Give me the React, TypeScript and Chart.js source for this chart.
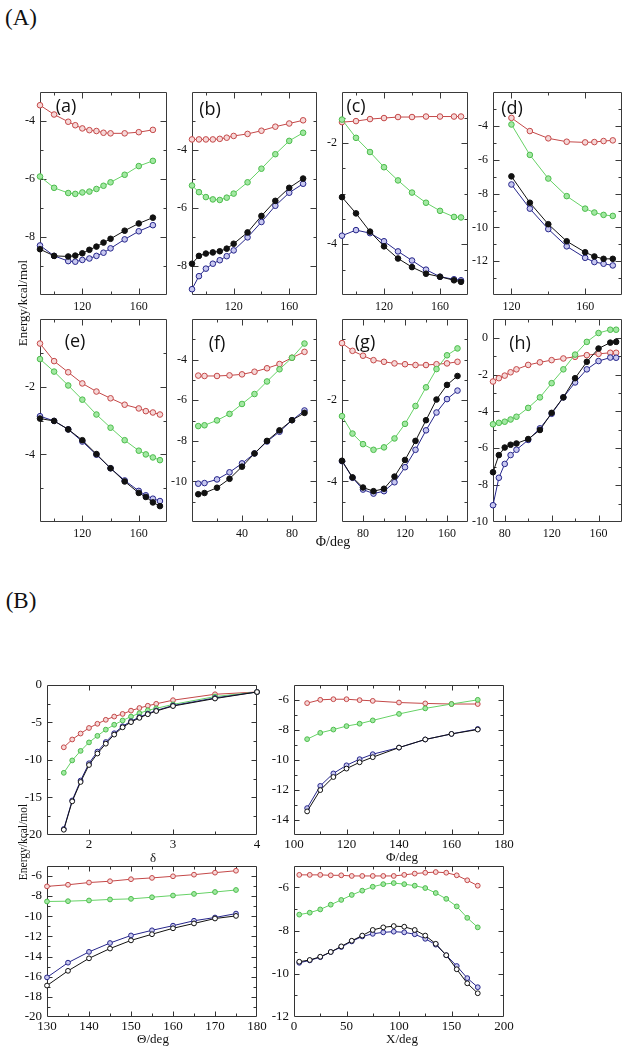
import React, { useEffect, useRef } from "react";
import { Chart, registerables } from "chart.js";

Chart.register(...registerables);

// ---------------- Panel A data ----------------
const aPhi = [90, 100, 110, 115, 120, 125, 130, 135, 140, 150, 160, 170];
const aRed = [-3.45, -3.77, -4.02, -4.14, -4.25, -4.31, -4.34, -4.4, -4.42, -4.42, -4.38, -4.3];
const aGreen = [-5.91, -6.3, -6.48, -6.51, -6.46, -6.43, -6.34, -6.23, -6.11, -5.85, -5.55, -5.37];
const aBlack = [-8.42, -8.65, -8.67, -8.64, -8.56, -8.44, -8.33, -8.19, -8.06, -7.78, -7.53, -7.33];
const aBlue = [-8.29, -8.65, -8.83, -8.85, -8.79, -8.74, -8.65, -8.54, -8.39, -8.08, -7.8, -7.59];

const bPhi = [90, 95, 100, 105, 110, 115, 120, 130, 140, 150, 160, 170];
const bRed = [-3.63, -3.63, -3.63, -3.63, -3.61, -3.57, -3.51, -3.44, -3.33, -3.19, -3.08, -2.97];
const bGreen = [-5.22, -5.45, -5.62, -5.7, -5.72, -5.64, -5.5, -5.11, -4.64, -4.14, -3.68, -3.4];
const bBlack = [-7.92, -7.65, -7.57, -7.53, -7.49, -7.4, -7.23, -6.84, -6.27, -5.75, -5.3, -4.98];
const bBlue = [-8.8, -8.35, -8.09, -7.92, -7.8, -7.66, -7.46, -7.01, -6.48, -5.92, -5.47, -5.16];

const cPhi = [90, 100, 110, 120, 130, 140, 150, 160, 170, 175];
const cRed = [-1.59, -1.57, -1.53, -1.51, -1.49, -1.49, -1.48, -1.48, -1.48, -1.48];
const cGreen = [-1.54, -1.9, -2.18, -2.48, -2.74, -2.98, -3.18, -3.34, -3.46, -3.47];
const cBlack = [-3.07, -3.39, -3.75, -4.04, -4.28, -4.45, -4.58, -4.64, -4.71, -4.74];
const cBlue = [-3.83, -3.72, -3.78, -3.94, -4.14, -4.32, -4.5, -4.64, -4.69, -4.71];

const dPhi = [120, 130, 140, 150, 160, 165, 170, 175];
const dRed = [-3.52, -4.3, -4.73, -4.93, -4.97, -4.95, -4.89, -4.85];
const dGreen = [-3.91, -5.71, -7.11, -8.15, -8.89, -9.12, -9.26, -9.32];
const dBlack = [-6.98, -8.54, -9.81, -10.82, -11.47, -11.72, -11.86, -11.86];
const dBlue = [-7.46, -8.89, -10.1, -11.12, -11.8, -12.05, -12.15, -12.25];

const ePhi = [90, 100, 110, 120, 130, 140, 150, 160, 165, 170, 175];
const eRed = [-0.72, -1.24, -1.57, -1.9, -2.14, -2.34, -2.53, -2.64, -2.72, -2.76, -2.82];
const eGreen = [-1.18, -1.55, -1.96, -2.38, -2.82, -3.21, -3.58, -3.89, -4.0, -4.09, -4.17];
const eBlack = [-2.94, -3.01, -3.26, -3.58, -3.99, -4.41, -4.8, -5.14, -5.26, -5.42, -5.53];
const eBlue = [-2.87, -3.01, -3.26, -3.62, -4.01, -4.41, -4.77, -5.08, -5.21, -5.31, -5.38];

const fPhi = [5, 10, 20, 30, 40, 50, 60, 70, 80, 90];
const fRed = [-4.78, -4.8, -4.8, -4.77, -4.72, -4.59, -4.42, -4.21, -3.9, -3.61];
const fGreen = [-7.27, -7.23, -6.99, -6.67, -6.18, -5.69, -5.07, -4.47, -3.9, -3.2];
const fBlack = [-10.63, -10.57, -10.31, -9.87, -9.27, -8.62, -8.0, -7.48, -6.98, -6.62];
const fBlue = [-10.11, -10.08, -9.9, -9.55, -9.11, -8.62, -8.03, -7.55, -6.98, -6.5];

const gPhi = [60, 70, 80, 90, 100, 110, 120, 130, 140, 150, 160, 170];
const gRed = [-0.59, -0.78, -0.9, -1.01, -1.05, -1.09, -1.11, -1.13, -1.13, -1.11, -1.09, -1.05];
const gGreen = [-2.39, -2.82, -3.08, -3.22, -3.16, -2.94, -2.58, -2.14, -1.68, -1.23, -0.89, -0.72];
const gBlack = [-3.49, -3.9, -4.15, -4.24, -4.18, -3.88, -3.47, -3.0, -2.49, -1.98, -1.62, -1.4];
const gBlue = [-3.5, -3.91, -4.2, -4.3, -4.24, -4.02, -3.65, -3.22, -2.74, -2.3, -1.97, -1.76];

const hPhi = [70, 75, 80, 85, 90, 100, 110, 120, 130, 140, 150, 160, 170, 175];
const hRed = [-2.38, -2.2, -2.06, -1.88, -1.72, -1.48, -1.34, -1.22, -1.13, -1.04, -0.95, -0.88, -0.82, -0.82];
const hGreen = [-4.7, -4.62, -4.56, -4.44, -4.29, -3.81, -3.24, -2.47, -1.72, -0.92, -0.23, 0.25, 0.43, 0.43];
const hBlack = [-7.3, -6.37, -5.96, -5.81, -5.74, -5.5, -5.01, -4.08, -3.24, -2.2, -1.31, -0.59, -0.27, -0.23];
const hBlue = [-9.09, -7.6, -6.85, -6.37, -6.08, -5.55, -4.92, -4.13, -3.24, -2.43, -1.72, -1.27, -1.08, -1.09];

// ---------------- Panel B data ----------------
const delta = [1.7, 1.8, 1.9, 2.0, 2.1, 2.2, 2.3, 2.4, 2.5, 2.6, 2.7, 2.8, 3.0, 3.5, 4.0];
const deltaRed = [-8.32, -7.28, -6.49, -5.75, -5.19, -4.66, -4.23, -3.88, -3.44, -3.09, -2.79, -2.53, -2.05, -1.26, -0.96];
const deltaGreen = [-11.72, -10.07, -8.8, -7.67, -6.8, -5.97, -5.32, -4.75, -4.23, -3.79, -3.4, -3.14, -2.61, -1.57, -0.96];
const deltaBlack = [-19.3, -15.52, -12.94, -10.68, -9.15, -7.84, -6.63, -5.66, -4.97, -4.4, -3.92, -3.49, -2.83, -1.83, -0.96];
const deltaBlue = [-19.2, -15.4, -12.75, -10.45, -8.9, -7.62, -6.45, -5.52, -4.85, -4.3, -3.84, -3.42, -2.76, -1.75, -0.96];

const phiB = [105, 110, 115, 120, 125, 130, 140, 150, 160, 170];
const phiRed = [-6.22, -6.0, -5.96, -5.96, -6.02, -6.07, -6.18, -6.24, -6.28, -6.28];
const phiGreen = [-8.62, -8.2, -7.98, -7.75, -7.59, -7.37, -6.94, -6.57, -6.28, -6.0];
const phiBlack = [-13.43, -12.01, -11.14, -10.58, -10.16, -9.82, -9.18, -8.64, -8.27, -7.98];
const phiBlue = [-13.21, -11.73, -10.9, -10.36, -9.95, -9.62, -9.18, -8.64, -8.27, -7.94];

const theta = [130, 135, 140, 145, 150, 155, 160, 165, 170, 175];
const thetaRed = [-7.04, -6.88, -6.66, -6.53, -6.33, -6.2, -6.04, -5.88, -5.68, -5.49];
const thetaGreen = [-8.54, -8.51, -8.44, -8.34, -8.28, -8.12, -7.95, -7.79, -7.6, -7.4];
const thetaBlack = [-16.88, -15.42, -14.18, -13.21, -12.4, -11.79, -11.2, -10.72, -10.23, -9.97];
const thetaBlue = [-16.07, -14.61, -13.54, -12.66, -11.91, -11.4, -10.94, -10.45, -10.13, -9.74];

const chi = [5, 15, 25, 35, 45, 55, 65, 75, 85, 95, 105, 115, 125, 135, 145, 155, 165, 175];
const chiRed = [-5.42, -5.42, -5.42, -5.44, -5.44, -5.47, -5.47, -5.47, -5.47, -5.47, -5.42, -5.36, -5.32, -5.29, -5.32, -5.44, -5.67, -5.92];
const chiGreen = [-7.26, -7.17, -7.02, -6.8, -6.58, -6.35, -6.15, -5.97, -5.85, -5.8, -5.85, -5.92, -6.03, -6.26, -6.53, -6.88, -7.41, -7.85];
const chiBlack = [-9.44, -9.36, -9.21, -8.99, -8.73, -8.47, -8.23, -7.97, -7.85, -7.79, -7.82, -7.97, -8.23, -8.61, -9.14, -9.79, -10.44, -10.9];
const chiBlue = [-9.49, -9.38, -9.23, -8.99, -8.76, -8.5, -8.27, -8.15, -8.08, -8.05, -8.08, -8.17, -8.38, -8.65, -9.14, -9.64, -10.2, -10.62];

// ---------------- tick labels ----------------
const aXTicks = [120, 160];
const aYTicks = [-4, -6, -8];
const bXTicks = [120, 160];
const bYTicks = [-4, -6, -8];
const cXTicks = [120, 160];
const cYTicks = [-2, -4];
const dXTicks = [120, 160];
const dYTicks = [-4, -6, -8, -10, -12];
const eXTicks = [120, 160];
const eYTicks = [-2, -4];
const fXTicks = [40, 80];
const fYTicks = [-4, -6, -8, -10];
const gXTicks = [80, 120, 160];
const gYTicks = [-2, -4];
const hXTicks = [80, 120, 160];
const hYTicks = [0, -2, -4, -6, -8, -10];

const deltaXTicks = [2, 3, 4];
const deltaYTicks = [0, -5, -10, -15, -20];
const phiXTicks = [100, 120, 140, 160, 180];
const phiYTicks = [-6, -8, -10, -12, -14];
const thetaXTicks = [130, 140, 150, 160, 170, 180];
const thetaYTicks = [-6, -8, -10, -12, -14, -16, -18, -20];
const chiXTicks = [0, 50, 100, 150, 200];
const chiYTicks = [-6, -8, -10, -12];

type Kind = "red" | "green" | "black" | "blue";
type SeriesDef = { x: number[]; y: number[]; kind: Kind };
type PanelDef = {
  box: [number, number, number, number];
  xr: [number, number];
  yr: [number, number];
  xTicks: number[];
  yTicks: number[];
  xStep: [number, number];
  yStep: [number, number];
  series: SeriesDef[];
  big: boolean;
};

function four(x: number[], black: number[], blue: number[], green: number[], red: number[]): SeriesDef[] {
  return [
    { x, y: black, kind: "black" },
    { x, y: blue, kind: "blue" },
    { x, y: green, kind: "green" },
    { x, y: red, kind: "red" },
  ];
}

const R1: [number, number] = [90, 295];
const R2: [number, number] = [317, 522];
const C = [
  [40, 167],
  [192, 317],
  [342, 468],
  [493, 622],
];

const panels: PanelDef[] = [
  { box: [C[0][0], R1[0], C[0][1], R1[1]], xr: [90, 180], yr: [-10, -3], xTicks: aXTicks, yTicks: aYTicks, xStep: [40, 20], yStep: [2, 1], series: four(aPhi, aBlack, aBlue, aGreen, aRed), big: false },
  { box: [C[1][0], R1[0], C[1][1], R1[1]], xr: [90, 180], yr: [-9, -2], xTicks: bXTicks, yTicks: bYTicks, xStep: [40, 20], yStep: [2, 1], series: four(bPhi, bBlack, bBlue, bGreen, bRed), big: false },
  { box: [C[2][0], R1[0], C[2][1], R1[1]], xr: [90, 180], yr: [-5, -1], xTicks: cXTicks, yTicks: cYTicks, xStep: [40, 20], yStep: [2, 0.5], series: four(cPhi, cBlack, cBlue, cGreen, cRed), big: false },
  { box: [C[3][0], R1[0], C[3][1], R1[1]], xr: [110, 180], yr: [-14, -2], xTicks: dXTicks, yTicks: dYTicks, xStep: [40, 20], yStep: [2, 1], series: four(dPhi, dBlack, dBlue, dGreen, dRed), big: false },
  { box: [C[0][0], R2[0], C[0][1], R2[1]], xr: [90, 180], yr: [-6, 0], xTicks: eXTicks, yTicks: eYTicks, xStep: [40, 20], yStep: [2, 1], series: four(ePhi, eBlack, eBlue, eGreen, eRed), big: false },
  { box: [C[1][0], R2[0], C[1][1], R2[1]], xr: [0, 100], yr: [-12, -2], xTicks: fXTicks, yTicks: fYTicks, xStep: [40, 20], yStep: [2, 1], series: four(fPhi, fBlack, fBlue, fGreen, fRed), big: false },
  { box: [C[2][0], R2[0], C[2][1], R2[1]], xr: [60, 180], yr: [-5, 0], xTicks: gXTicks, yTicks: gYTicks, xStep: [40, 20], yStep: [2, 0.5], series: four(gPhi, gBlack, gBlue, gGreen, gRed), big: false },
  { box: [C[3][0], R2[0], C[3][1], R2[1]], xr: [70, 180], yr: [-10, 1], xTicks: hXTicks, yTicks: hYTicks, xStep: [40, 20], yStep: [2, 1], series: four(hPhi, hBlack, hBlue, hGreen, hRed), big: false },
  { box: [47, 682, 257, 835], xr: [1.5, 4], yr: [-20, 0], xTicks: deltaXTicks, yTicks: deltaYTicks, xStep: [1, 0.5], yStep: [5, 2.5], series: four(delta, deltaBlack, deltaBlue, deltaGreen, deltaRed), big: true },
  { box: [294, 682, 504, 835], xr: [100, 180], yr: [-15, -5], xTicks: phiXTicks, yTicks: phiYTicks, xStep: [20, 10], yStep: [2, 1], series: four(phiB, phiBlack, phiBlue, phiGreen, phiRed), big: true },
  { box: [47, 863, 257, 1017], xr: [130, 180], yr: [-20, -5], xTicks: thetaXTicks, yTicks: thetaYTicks, xStep: [10, 5], yStep: [2, 1], series: four(theta, thetaBlack, thetaBlue, thetaGreen, thetaRed), big: true },
  { box: [294, 863, 504, 1017], xr: [0, 200], yr: [-12, -5], xTicks: chiXTicks, yTicks: chiYTicks, xStep: [50, 25], yStep: [2, 1], series: four(chi, chiBlack, chiBlue, chiGreen, chiRed), big: true },
];

function styleFor(kind: Kind, big: boolean) {
  switch (kind) {
    case "red":
      return { line: "#c44848", pb: "#c44848", pf: "#f6d8d8" };
    case "green":
      return { line: "#66d266", pb: "#4cbc4c", pf: "#a2e8a2" };
    case "black":
      return { line: "#111111", pb: "#111111", pf: big ? "#ffffff" : "#111111" };
    default:
      return { line: "#25258a", pb: "#25258a", pf: "#c8c8f0" };
  }
}

function multiples(min: number, max: number, step: number): number[] {
  const out: number[] = [];
  const start = Math.ceil(min / step - 1e-9);
  for (let k = start; k * step <= max + 1e-9; k++) out.push(Math.round(k * step * 1000) / 1000);
  return out;
}

const framePlugin = {
  id: "frame",
  beforeDatasetsDraw(chart: any, _args: any, opts: any) {
    const { ctx, chartArea } = chart;
    const { left, top, right, bottom } = chartArea;
    const xs = chart.scales.x;
    const ys = chart.scales.y;
    const eps = 1e-6;
    const inside = (v: number, a: number, b: number) => v > a + eps && v < b - eps;
    const xMaj = multiples(xs.min, xs.max, opts.xStep[0]).filter((v) => inside(v, xs.min, xs.max));
    const xMin = multiples(xs.min, xs.max, opts.xStep[1]).filter((v) => inside(v, xs.min, xs.max) && !xMaj.includes(v));
    const yMaj = multiples(ys.min, ys.max, opts.yStep[0]).filter((v) => inside(v, ys.min, ys.max));
    const yMin = multiples(ys.min, ys.max, opts.yStep[1]).filter((v) => inside(v, ys.min, ys.max) && !yMaj.includes(v));
    ctx.save();
    ctx.strokeStyle = opts.color;
    ctx.lineWidth = 1;
    ctx.beginPath();
    const L = Math.round(left) + 0.5;
    const R = Math.round(right) - 0.5;
    const T = Math.round(top) + 0.5;
    const B = Math.round(bottom) - 0.5;
    ctx.rect(L, T, R - L, B - T);
    const drawX = (vals: number[], len: number) => {
      vals.forEach((v) => {
        const p = Math.round(xs.getPixelForValue(v)) + 0.5;
        ctx.moveTo(p, B);
        ctx.lineTo(p, B - len);
        ctx.moveTo(p, T);
        ctx.lineTo(p, T + len);
      });
    };
    const drawY = (vals: number[], len: number) => {
      vals.forEach((v) => {
        const p = Math.round(ys.getPixelForValue(v)) + 0.5;
        ctx.moveTo(L, p);
        ctx.lineTo(L + len, p);
        ctx.moveTo(R, p);
        ctx.lineTo(R - len, p);
      });
    };
    drawX(xMaj, opts.major);
    drawX(xMin, opts.minor);
    drawY(yMaj, opts.major);
    drawY(yMin, opts.minor);
    ctx.stroke();
    ctx.restore();
  },
};

function Panel({ def }: { def: PanelDef }) {
  const ref = useRef<HTMLCanvasElement | null>(null);
  const padL = def.big ? 46 : 36;
  const padR = def.big ? 16 : 14;
  const padT = 10;
  const padB = def.big ? 18 : 20;
  const [bl, bt, br, bb] = def.box;
  const w = br - bl + padL + padR;
  const h = bb - bt + padT + padB;
  useEffect(() => {
    if (!ref.current) return;
    const fontSize = def.big ? 13 : 12;
    const font = { family: "'Liberation Serif', 'DejaVu Serif', serif", size: fontSize };
    const r = def.big ? 2.4 : 2.8;
    const datasets = def.series.map((s) => {
      const st = styleFor(s.kind, def.big);
      return {
        data: s.x.map((x, i) => ({ x, y: s.y[i] })),
        showLine: true,
        borderColor: st.line,
        borderWidth: 1,
        pointRadius: r,
        pointBorderWidth: 1,
        pointBorderColor: st.pb,
        pointBackgroundColor: st.pf,
        backgroundColor: st.pf,
        tension: 0,
        fill: false,
        clip: false as any,
      };
    });
    const chart = new Chart(ref.current, {
      type: "scatter",
      data: { datasets },
      options: {
        animation: false,
        responsive: false,
        devicePixelRatio: 1,
        events: [],
        layout: { padding: { left: 0, top: padT, right: padR, bottom: 0 } },
        plugins: {
          legend: { display: false },
          tooltip: { enabled: false },
          frame: { xStep: def.xStep, yStep: def.yStep, major: def.big ? 5 : 6, minor: 3, color: def.big ? "#333" : "#3a3a3a" },
        } as any,
        scales: {
          x: {
            type: "linear",
            min: def.xr[0],
            max: def.xr[1],
            grid: { display: false, drawTicks: false },
            border: { display: false },
            ticks: { font, color: "#111", padding: def.big ? 2 : 5, autoSkip: false, maxRotation: 0, callback: (v: any) => String(v) },
            afterBuildTicks: (s: any) => {
              s.ticks = def.xTicks.map((v) => ({ value: v }));
            },
            afterFit: (s: any) => {
              s.height = padB;
            },
          },
          y: {
            type: "linear",
            min: def.yr[0],
            max: def.yr[1],
            grid: { display: false, drawTicks: false },
            border: { display: false },
            ticks: { font, color: "#111", padding: 5, autoSkip: false, callback: (v: any) => String(v) },
            afterBuildTicks: (s: any) => {
              s.ticks = def.yTicks.map((v) => ({ value: v }));
            },
            afterFit: (s: any) => {
              s.width = padL;
            },
          },
        },
      },
      plugins: [framePlugin as any],
    });
    return () => chart.destroy();
  }, []);
  return (
    <canvas
      ref={ref}
      width={w}
      height={h}
      style={{ position: "absolute", left: bl - padL, top: bt - padT, width: w, height: h }}
    />
  );
}

function Txt(props: { x: number; y: number; size: number; text: string; sans?: boolean; rot?: boolean }) {
  return (
    <div
      style={{
        position: "absolute",
        left: props.x,
        top: props.y,
        transform: `translate(-50%, -50%)${props.rot ? " rotate(-90deg)" : ""}`,
        fontFamily: props.sans ? "'Open Sans', 'Noto Sans', sans-serif" : "'Liberation Serif', 'DejaVu Serif', serif",
        fontSize: props.size,
        lineHeight: 1,
        whiteSpace: "nowrap",
        color: "#111",
      }}
    >
      {props.text}
    </div>
  );
}

const subLabels: [string, number, number][] = [
  ["(a)", 66, 105],
  ["(b)", 210, 108],
  ["(c)", 356, 105],
  ["(d)", 512, 107],
  ["(e)", 75, 340],
  ["(f)", 217, 342],
  ["(g)", 365, 341],
  ["(h)", 520, 342],
];

export default function App() {
  return (
    <div style={{ position: "absolute", left: 0, top: 0, width: 628, height: 1050, background: "#fff", overflow: "hidden" }}>
      {panels.map((p, i) => (
        <Panel key={i} def={p} />
      ))}
      <Txt x={21} y={17} size={23} text="(A)" />
      <Txt x={21} y={600} size={23} text="(B)" />
      <Txt x={22} y={303} size={13} text="Energy/kcal/mol" rot />
      <Txt x={333} y={542} size={14} text="Φ/deg" />
      <Txt x={24} y={842} size={11.5} text="Energy/kcal/mol" rot />
      <Txt x={153} y={857} size={13} text="δ" />
      <Txt x={402} y={856} size={13} text="Φ/deg" />
      <Txt x={153} y={1038} size={13} text="Θ/deg" />
      <Txt x={402} y={1038} size={13} text="X/deg" />
      {subLabels.map(([t, x, y]) => (
        <Txt key={t} x={x} y={y} size={18} text={t} sans />
      ))}
    </div>
  );
}
